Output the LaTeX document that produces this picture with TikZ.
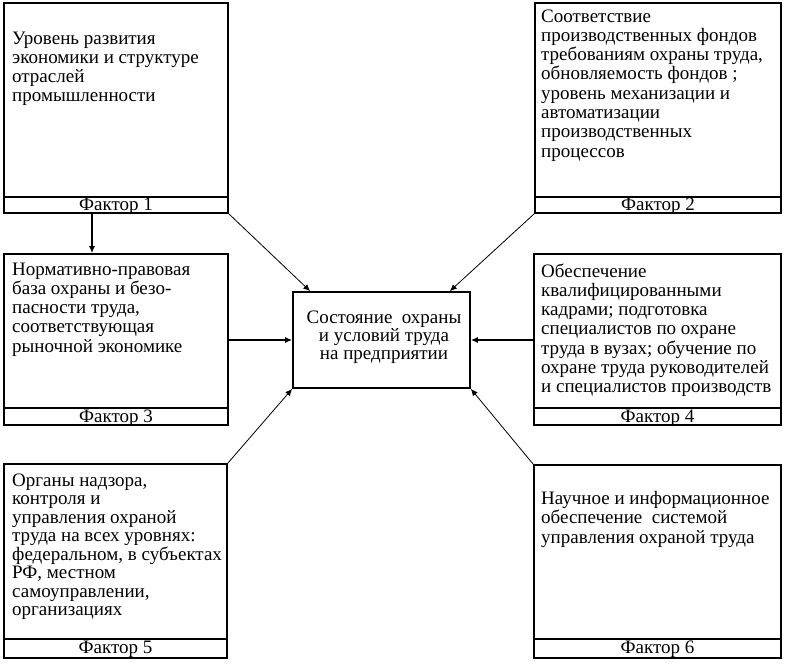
\documentclass[tikz,border=0pt]{standalone}
\usepackage{fontspec}
\setmainfont{Liberation Serif}
\usetikzlibrary{arrows.meta}
\begin{document}
\begin{tikzpicture}[x=1pt,y=-1pt,
  box/.style={draw, line width=1.6pt, fill=white, inner sep=0pt},
  strip/.style={draw, line width=1.6pt, fill=white, inner sep=0pt, font=\fontsize{19}{19}\selectfont},
  txt/.style={anchor=base west, align=left, inner sep=0pt, font=\fontsize{19}{19.3}\selectfont},
  thin/.style={line width=0.8pt, -{Latex[length=7pt,width=6pt]}},
  thick/.style={line width=1.6pt, -{Latex[length=7pt,width=6pt]}}]
\useasboundingbox (0,0) rectangle (788,672);
% box 1
\node[box, minimum width=224pt, minimum height=194pt] (b1) at (116,100) {};
\node[strip, minimum width=224pt, minimum height=16pt, text height=13.5pt, text depth=2.5pt] (f1) at (116,205) {Фактор 1};
% box 2
\node[box, minimum width=246pt, minimum height=194pt] (b2) at (658,100) {};
\node[strip, minimum width=246pt, minimum height=16pt, text height=13.5pt, text depth=2.5pt] (f2) at (658,205) {Фактор 2};
% box 3
\node[box, minimum width=224pt, minimum height=154pt] (b3) at (116,331) {};
\node[strip, minimum width=224pt, minimum height=17pt, text height=14.5pt, text depth=2.5pt] (f3) at (116,416.5) {Фактор 3};
% box 4
\node[box, minimum width=247pt, minimum height=154pt] (b4) at (657.5,331) {};
\node[strip, minimum width=247pt, minimum height=17pt, text height=14.5pt, text depth=2.5pt] (f4) at (657.5,416.5) {Фактор 4};
% box 5
\node[box, minimum width=223pt, minimum height=175pt] (b5) at (115.5,551.5) {};
\node[strip, minimum width=223pt, minimum height=19pt, text height=14pt, text depth=5pt] (f5) at (115.5,648.5) {Фактор 5};
% box 6
\node[box, minimum width=247pt, minimum height=174pt] (b6) at (657.5,552) {};
\node[strip, minimum width=247pt, minimum height=19pt, text height=14pt, text depth=5pt] (f6) at (657.5,648.5) {Фактор 6};
% centre
\node[box, minimum width=177pt, minimum height=96pt] (c) at (381.5,340) {};
% texts (anchored at the baseline of their last line)
\node[txt] (t1) at (12,101.9) {Уровень развития\\экономики и структуре\\отраслей\\промышленности};
\node[txt] (t2) at (541,157.1) {Соответствие\\производственных фондов\\требованиям охраны труда,\\обновляемость фондов ;\\уровень механизации и\\автоматизации\\производственных\\процессов};
\node[txt] (t3) at (12,352.2) {Нормативно-правовая\\база охраны и безо-\\пасности труда,\\соответствующая\\рыночной экономике};
\node[txt] (t4) at (541,392.8) {Обеспечение\\квалифицированными\\кадрами; подготовка\\специалистов по охране\\труда в вузах; обучение по\\охране труда руководителей\\и специалистов производств};
\node[txt, font=\fontsize{19}{18.5}\selectfont] (t5) at (12,615.5) {Органы надзора,\\контроля и\\управления охраной\\труда на всех уровнях:\\федеральном, в субъектах\\РФ, местном\\самоуправлении,\\организациях};
\node[txt, font=\fontsize{19}{19.8}\selectfont] (t6) at (541,543.6) {Научное и информационное\\обеспечение\ \ системой\\управления охраной труда};
\node[txt, anchor=base, align=center, font=\fontsize{19}{18}\selectfont] (tc) at (384,359) {Состояние\ \ охраны\\и условий труда\\на предприятии};
% connectors
\draw[thick] ([xshift=-24pt]f1.south) -- ([xshift=-24pt]b3.north);
\draw[thin] (f1.south east) -- ([xshift=18pt]c.north west);
\draw[thin] (f2.south west) -- ([xshift=-21pt]c.north east);
\draw[thick] (b3.east |- c.west) -- (c.west);
\draw[thick] (b4.west |- c.east) -- (c.east);
\draw[thin] (b5.north east) -- (c.south west);
\draw[thin] (b6.north west) -- (c.south east);
\end{tikzpicture}
\end{document}
